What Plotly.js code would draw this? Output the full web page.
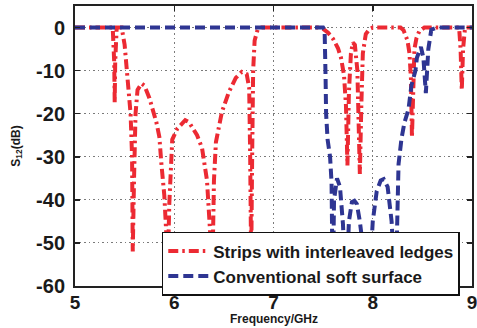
<!DOCTYPE html>
<html>
<head>
<meta charset="utf-8">
<script src="https://cdn.plot.ly/plotly-3.0.1.min.js"></script>
<style>
  html, body { margin: 0; padding: 0; background: #fff; }
  #plot { width: 477px; height: 328px; }
</style>
</head>
<body>
<div id="plot"></div>
<script>
// S12 of the ledged strip structure (red) and the plain soft surface (blue)
const stripsFreq = [5.00, 5.38, 5.395, 5.40, 5.405, 5.42, 5.47, 5.50, 5.53, 5.56, 5.575, 5.582, 5.595, 5.61, 5.63, 5.67, 5.70,
  5.75, 5.82, 5.85, 5.87, 5.90, 5.92, 5.935, 5.95, 5.98, 6.03, 6.07, 6.11, 6.15, 6.18, 6.23, 6.28, 6.33, 6.36, 6.385,
  6.40, 6.42, 6.48, 6.55, 6.62, 6.68, 6.73, 6.755, 6.765, 6.775, 6.785, 6.795, 6.81, 6.84, 6.88,
  7.45, 7.50, 7.55, 7.60, 7.65, 7.68, 7.71, 7.73, 7.745, 7.76, 7.78, 7.80, 7.82, 7.845, 7.86, 7.87, 7.885, 7.90, 7.93, 7.97, 8.00,
  8.28, 8.31, 8.35, 8.37, 8.385, 8.395, 8.405, 8.42, 8.44, 8.47, 8.52,
  8.87, 8.885, 8.897, 8.91, 8.93, 9.00];
const stripsS12 = [0, 0, -8, -17.5, -8, 0, 0, -4, -12, -20, -30, -52, -35, -20, -14.5, -13, -13.5,
  -16.4, -22, -25.4, -31.5, -39, -48, -56, -41, -26, -23.5, -22.5, -21.5, -22, -23, -25, -28, -35.5, -47, -56,
  -35.5, -26.6, -19.6, -15, -11.7, -10.3, -10.8, -14, -30, -55, -30, -10, -3, -0.5, 0,
  0, -0.3, -1.2, -2.6, -4.8, -7, -11, -18, -32, -15, -6, -3.5, -4, -10, -22, -34, -18, -6, -1.5, -0.3, 0,
  0, -0.6, -3, -6, -12, -25.5, -12, -5, -2.5, -0.8, 0,
  0, -5, -14.5, -5, 0, 0];

const softFreq = [5.00, 7.50, 7.515, 7.52, 7.525, 7.53, 7.545, 7.57, 7.585, 7.597, 7.61, 7.64, 7.67, 7.70, 7.73,
  7.76, 7.79, 7.815, 7.84, 7.87, 7.91, 7.96, 8.00, 8.04, 8.08, 8.11, 8.15, 8.19, 8.23,
  8.26, 8.29, 8.32, 8.36, 8.39, 8.43, 8.445, 8.485, 8.51, 8.535, 8.56, 8.59, 8.65, 9.00];
const softS12 = [0, 0, -0.5, -4, -12, -20, -26, -30, -36, -62, -40, -35, -37, -45.7, -62,
  -45, -40.5, -40.2, -41, -45, -52, -62, -45, -38, -35.5, -35.2, -37, -45, -62,
  -31.7, -25.7, -22, -19, -13.4, -10, -7, -4.5, -7, -15.2, -5, -0.5, 0, 0];

const seriesNames = ['Strips with interleaved ledges', 'Conventional soft surface'];
const xTicks = [5, 6, 7, 8, 9];
const yTicks = [-60, -50, -40, -30, -20, -10, 0];
const xLabel = 'Frequency/GHz';
const yLabel = 'S<sub>12</sub>(dB)';

const FONT = 'Liberation Sans, Arial, Helvetica, sans-serif';
const INK = '#1a1a1a';

const traces = [
  {
    x: stripsFreq, y: stripsS12, name: seriesNames[0], type: 'scatter', mode: 'lines',
    line: { color: '#ec2a33', width: 4, dash: '10px,4px,2.5px,4px' }
  },
  {
    x: softFreq, y: softS12, name: seriesNames[1], type: 'scatter', mode: 'lines',
    line: { color: '#2e3592', width: 4, dash: '10px,5px' }
  }
];

const axisCommon = {
  showline: true, linecolor: '#222', linewidth: 2, mirror: 'ticks',
  ticks: 'inside', ticklen: 5, tickwidth: 1.5, tickcolor: '#222',
  showgrid: true, gridcolor: '#7a7a7a', gridwidth: 1, griddash: '1.5px,3px',
  zeroline: false, fixedrange: true, ticklabeloverflow: 'allow'
};

const layout = {
  width: 477, height: 328,
  margin: { l: 75, r: 5, t: 6, b: 42 },
  paper_bgcolor: '#fff', plot_bgcolor: '#fff',
  showlegend: true,
  xaxis: Object.assign({}, axisCommon, {
    range: [5, 9], tickvals: xTicks, ticktext: xTicks.map(String),
    ticklabelstandoff: -2,
    tickfont: { family: FONT, size: 19, color: INK, weight: 'bold' }
  }),
  yaxis: Object.assign({}, axisCommon, {
    range: [-60, 5], tickvals: yTicks, ticktext: yTicks.map(String),
    ticklabelstandoff: 4,
    tickfont: { family: FONT, size: 20, color: INK, weight: 'bold' },
    title: { text: yLabel, font: { family: FONT, size: 12, color: INK, weight: 'bold' }, standoff: 13 }
  }),
  // frequency axis label sits close under the tick numbers
  annotations: [{
    text: xLabel, xref: 'paper', yref: 'paper', x: 0.5, y: -0.119,
    xanchor: 'center', yanchor: 'middle', showarrow: false,
    font: { family: FONT, size: 12, color: INK, weight: 'bold' }
  }],
  legend: {
    x: 0.2186, y: 0.193, xanchor: 'left', yanchor: 'top',
    bgcolor: '#fff', bordercolor: '#111', borderwidth: 1.5,
    itemwidth: 40, tracegroupgap: 0,
    font: { family: FONT, size: 17, color: INK, weight: 'bold' }
  }
};

Plotly.newPlot('plot', traces, layout, { staticPlot: true, displayModeBar: false });
</script>
</body>
</html>
